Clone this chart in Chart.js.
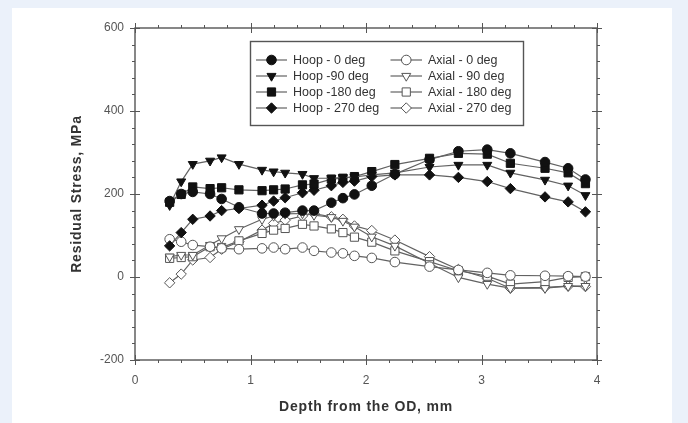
<!DOCTYPE html>
<html>
<head>
<meta charset="utf-8">
<script src="https://cdn.jsdelivr.net/npm/chart.js@4.4.1/dist/chart.umd.min.js"></script>
<style>
html, body { margin: 0; padding: 0; background: #ebf1fa; }
#card { position: absolute; left: 12px; top: 8px; width: 660px; height: 415px; background: #fff; }
</style>
</head>
<body>
<div id="card"><canvas id="myChart" width="660" height="415"></canvas></div>
<script>
// depth from the OD, mm
const depth = [0.3, 0.4, 0.5, 0.65, 0.75, 0.9, 1.1, 1.2, 1.3, 1.45, 1.55, 1.7, 1.8, 1.9, 2.05, 2.25, 2.55, 2.8, 3.05, 3.25, 3.55, 3.75, 3.9];

// residual stress, MPa
const hoop0   = [183, 200, 205, 200, 188, 168, 153, 153, 155, 160, 160, 179, 190, 199, 220, 248, 283, 303, 307, 298, 277, 262, 235];
const hoop90  = [173, 230, 272, 280, 288, 272, 258, 254, 251, 248, 238, 238, 240, 241, 246, 251, 265, 270, 270, 251, 234, 220, 197];
const hoop180 = [180, 199, 217, 213, 215, 210, 208, 210, 212, 222, 224, 236, 238, 242, 254, 271, 286, 298, 296, 274, 262, 251, 225];
const hoop270 = [75, 107, 139, 147, 160, 165, 173, 183, 191, 203, 209, 220, 228, 231, 242, 246, 246, 240, 230, 213, 193, 181, 157];
const axial0   = [91, 85, 77, 73, 69, 67, 69, 71, 67, 71, 63, 59, 57, 51, 46, 36, 25, 17, 10, 4, 3, 2, 1];
const axial90  = [49, 53, 53, 77, 93, 115, 139, 147, 152, 153, 149, 144, 135, 121, 97, 75, 33, -1, -17, -27, -27, -22, -22];
const axial180 = [45, 47, 49, 73, 71, 87, 105, 113, 117, 127, 123, 116, 107, 96, 84, 63, 37, 15, 2, -17, -11, -1, 1];
const axial270 = [-14, 7, 41, 47, 67, 85, 113, 129, 137, 147, 153, 145, 139, 123, 112, 89, 49, 18, -3, -27, -25, -22, -23];

const seriesNames = ['Hoop - 0 deg', 'Hoop -90 deg', 'Hoop -180 deg', 'Hoop - 270 deg',
                     'Axial - 0 deg', 'Axial - 90 deg', 'Axial - 180 deg', 'Axial - 270 deg'];
const yTicks = [-200, 0, 200, 400, 600];
const xTicks = [0, 1, 2, 3, 4];

const series = [hoop0, hoop90, hoop180, hoop270, axial0, axial90, axial180, axial270];
const markers = [
  { style: 'circle', rot: 0, r: 4.8 },
  { style: 'triangle', rot: 180, r: 5.2 },
  { style: 'rect', rot: 0, r: 5.8 },
  { style: 'rectRot', rot: 0, r: 5.2 }
];

const datasets = series.map((vals, i) => {
  const m = markers[i % 4];
  const open = i >= 4;
  return {
    label: seriesNames[i],
    data: depth.map((d, j) => ({ x: d, y: vals[j] })),
    showLine: true,
    borderColor: '#626262',
    borderWidth: 1.2,
    pointStyle: m.style,
    rotation: m.rot,
    pointRadius: m.r,
    pointHoverRadius: m.r,
    pointBackgroundColor: open ? '#fff' : '#111',
    pointBorderColor: open ? '#555' : '#111',
    pointBorderWidth: 1
  };
});

const frame = {
  id: 'frame',
  afterDatasetsDraw(chart) {
    const ctx = chart.ctx;
    const a = chart.chartArea;
    const xs = chart.scales.x, ys = chart.scales.y;
    ctx.save();
    ctx.strokeStyle = '#555';
    ctx.lineWidth = 1.4;
    ctx.strokeRect(a.left, a.top, a.right - a.left, a.bottom - a.top);
    ctx.lineWidth = 1;
    ctx.beginPath();
    // y ticks, left and right
    for (let v = -200; v <= 600; v += 40) {
      const y = Math.round(ys.getPixelForValue(v)) + 0.5;
      const major = v % 200 === 0;
      ctx.moveTo(a.left - (major ? 5 : 3), y); ctx.lineTo(a.left + (major ? 5 : 0), y);
      ctx.moveTo(a.right - (major ? 5 : 0), y); ctx.lineTo(a.right + (major ? 5 : 3), y);
    }
    // x ticks, bottom and top
    for (let k = 0; k <= 20; k++) {
      const x = Math.round(xs.getPixelForValue(k * 0.2)) + 0.5;
      const major = k % 5 === 0;
      ctx.moveTo(x, a.bottom + (major ? 5 : 3)); ctx.lineTo(x, a.bottom - (major ? 5 : 0));
      ctx.moveTo(x, a.top - (major ? 5 : 3)); ctx.lineTo(x, a.top + (major ? 5 : 0));
    }
    ctx.stroke();

    // axis titles
    ctx.fillStyle = '#333';
    ctx.font = 'bold 14px "Liberation Sans", Arial, sans-serif';
    ctx.letterSpacing = '0.8px';
    ctx.textAlign = 'center';
    ctx.textBaseline = 'middle';
    ctx.fillText('Depth from the OD, mm', (a.left + a.right) / 2, 399);
    ctx.translate(65, (a.top + a.bottom) / 2);
    ctx.rotate(-Math.PI / 2);
    ctx.fillText('Residual Stress, MPa', 0, 0);
    ctx.restore();

    // legend box
    ctx.save();
    ctx.fillStyle = '#fff';
    ctx.fillRect(238.5, 33.5, 273, 84);
    ctx.strokeStyle = '#555';
    ctx.lineWidth = 1.4;
    ctx.strokeRect(238.5, 33.5, 273, 84);
    ctx.font = '12.5px "Liberation Sans", Arial, sans-serif';
    ctx.textAlign = 'left';
    ctx.textBaseline = 'middle';
    const rows = [52, 68, 84, 100];
    const cols = [{ x0: 244, x1: 275, tx: 281 }, { x0: 378.5, x1: 410, tx: 416 }];
    chart.data.datasets.forEach((ds, i) => {
      const c = cols[Math.floor(i / 4)];
      const y = rows[i % 4];
      ctx.strokeStyle = ds.borderColor;
      ctx.lineWidth = 1.2;
      ctx.beginPath();
      ctx.moveTo(c.x0, y); ctx.lineTo(c.x1, y);
      ctx.stroke();
      ctx.fillStyle = ds.pointBackgroundColor;
      ctx.strokeStyle = ds.pointBorderColor;
      ctx.lineWidth = 1;
      Chart.helpers.drawPoint(ctx, {
        pointStyle: ds.pointStyle, rotation: ds.rotation,
        radius: ds.pointRadius, borderWidth: 1
      }, (c.x0 + c.x1) / 2, y);
      ctx.fillStyle = '#333';
      ctx.fillText(ds.label, c.tx, y + 0.5);
    });
    ctx.restore();
  }
};

const ctx = document.getElementById('myChart').getContext('2d');
const myChart = new Chart(ctx, {
  type: 'scatter',
  data: { datasets: datasets },
  options: {
    responsive: false,
    animation: false,
    devicePixelRatio: 1,
    layout: { padding: { left: 0, top: 20, right: 75, bottom: 0 } },
    plugins: { legend: { display: false }, tooltip: { enabled: false } },
    scales: {
      x: {
        type: 'linear', min: 0, max: 4,
        afterFit: s => { s.height = 63; },
        afterBuildTicks: s => { s.ticks = xTicks.map(v => ({ value: v })); },
        grid: { display: false, drawTicks: false },
        border: { display: false },
        ticks: { padding: 13, color: '#555', font: { size: 12, family: '"Liberation Sans", Arial, sans-serif' } }
      },
      y: {
        type: 'linear', min: -200, max: 600,
        afterFit: s => { s.width = 123; },
        afterBuildTicks: s => { s.ticks = yTicks.map(v => ({ value: v })); },
        grid: { display: false, drawTicks: false },
        border: { display: false },
        ticks: { padding: 11, color: '#555', font: { size: 12, family: '"Liberation Sans", Arial, sans-serif' } }
      }
    }
  },
  plugins: [frame]
});
</script>
</body>
</html>
